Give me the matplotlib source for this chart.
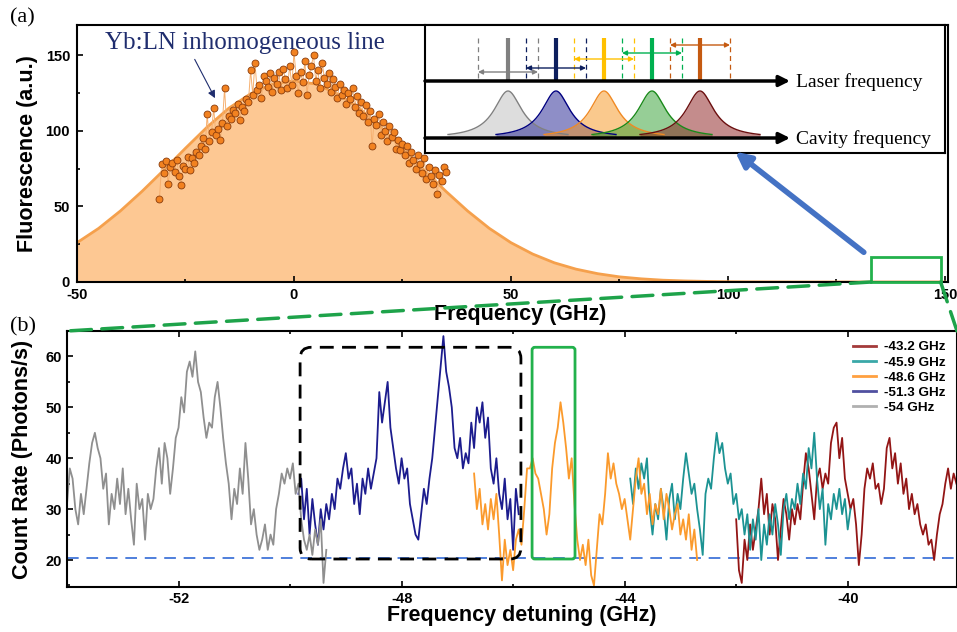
import numpy as np
import matplotlib
matplotlib.use("Agg")
import matplotlib.pyplot as plt
from matplotlib.patches import Rectangle, FancyBboxPatch, ConnectionPatch, FancyArrowPatch
from matplotlib.lines import Line2D
from matplotlib.ticker import MultipleLocator

plt.rcParams['font.family'] = ['Liberation Sans', 'DejaVu Sans']
plt.rcParams['axes.unicode_minus'] = False
SERIF = ['Liberation Serif', 'DejaVu Serif']

# ---- panel (a): inhomogeneous line ----
fit_x = np.arange(-50, 151, 5)
fit_y = [26, 35.5, 47, 60, 74, 88.5, 102.5, 115, 124.5, 131, 133,
         131, 124.5, 115, 102.5, 88.5, 74, 60, 47, 35.5, 26,
         18.5, 12.7, 8.5, 5.5, 3.4, 2.1, 1.2, 0.7, 0.4, 0.2,
         0.1, 0.05, 0, 0, 0, 0, 0, 0, 0, 0]

scat_x = -31 + 0.5 * np.arange(133)
scat_y = [55, 78, 72, 80, 65, 76, 79, 73, 81, 70,
          64, 77, 75, 83, 74, 82, 79, 86, 84, 90,
          95, 88, 111, 93, 99, 115, 97, 101, 94, 105,
          128, 103, 110, 108, 114, 112, 118, 107, 116, 113,
          121, 119, 140, 124, 145, 127, 130, 122, 136, 133,
          129, 138, 126, 135, 131, 139, 127, 141, 134, 128,
          143, 130, 152, 136, 125, 139, 132, 146, 124, 137,
          143, 150, 133, 140, 128, 145, 135, 131, 138, 126,
          134, 129, 122, 131, 124, 127, 118, 125, 121, 128,
          116, 123, 112, 119, 110, 117, 106, 113, 90, 108,
          104, 111, 97, 106, 100, 93, 103, 96, 99, 88,
          94, 87, 91, 84, 90, 79, 86, 81, 75, 84,
          78, 72, 82, 68, 76, 70, 65, 74, 58, 71,
          67, 76, 73]

# ---- panel (b): count-rate scans, 0.05 GHz sampling ----
STEP = 0.05
gray_start = -54.00
gray_y = [31, 38, 36, 30, 27, 33, 29, 34, 39, 43,
          45, 42, 40, 34, 37, 27, 33, 30, 36, 31,
          38, 29, 34, 28, 23, 35, 30, 32, 24, 33,
          30, 32, 38, 42, 35, 43, 40, 33, 38, 44,
          46, 52, 49, 57, 59, 56, 61, 55, 53, 48,
          44, 47, 46, 52, 55, 50, 44, 39, 35, 28,
          34, 31, 38, 33, 43, 36, 27, 30, 25, 22,
          24, 27, 22, 25, 23, 30, 33, 37, 35, 38,
          36, 39, 33, 35, 28, 24, 22, 25, 21, 26,
          23, 28, 15.5, 22]
navy_start = -49.85
navy_y = [33, 36, 28, 34, 25, 32, 27, 23, 30, 26,
          31, 28, 33, 30, 36, 34, 38, 41, 36, 38,
          31, 35, 29, 36, 33, 38, 34, 37, 40, 53,
          47, 51, 55, 46, 42, 38, 35, 40, 36, 38,
          31, 28, 25, 24, 29, 34, 31, 36, 40, 46,
          52, 58, 64, 57, 54, 50, 42, 40, 44, 38,
          41, 39, 47, 42, 50, 47, 51, 44, 48, 38,
          35, 40, 33, 30, 36, 28, 32, 22, 34, 29]
orange_start = -46.70
orange_y = [37, 30, 34, 27, 31, 26, 32, 28, 33, 25,
            16, 24, 19, 22, 18, 24, 26, 23, 30, 38,
            38, 40, 37, 36, 33, 30, 25, 29, 38, 43,
            46, 51, 47, 42, 36, 40, 31, 24, 20, 23,
            19, 24, 17, 15, 22, 29, 27, 33, 41, 36,
            39, 35, 33, 30, 32, 28, 24, 30, 36, 40,
            33, 35, 29, 33, 27, 31, 29, 34, 28, 33,
            30, 26, 29, 31, 25, 28, 24, 29, 22, 26,
            20]
teal_start = -43.90
teal_y = [36, 31, 38, 34, 39, 36, 40, 30, 25, 31,
          28, 34, 30, 24, 32, 35, 28, 33, 30, 36,
          41, 37, 33, 35, 30, 26, 21, 33, 36, 34,
          40, 45, 41, 43, 38, 35, 37, 31, 33, 28,
          30, 25, 29, 22, 28, 24, 30, 20, 27, 23,
          29, 25, 31, 27, 21, 30, 33, 28, 32, 30,
          35, 31, 37, 34, 42, 38, 45, 36, 30, 34,
          23, 31, 28, 33, 30, 34, 29, 32, 26, 30]
red_start = -42.00
red_y = [28, 18, 15.5, 24, 20, 27, 22, 26, 30, 36,
         29, 33, 25, 31, 28, 20, 26, 32, 29, 24,
         30, 27, 31, 28, 35, 41, 38, 33, 28, 36,
         38, 34, 37, 35, 43, 46, 47, 40, 44, 36,
         33, 30, 32, 27, 19, 25, 34, 38, 36, 39,
         34, 35, 31, 34, 42, 44, 38, 41, 35, 39,
         33, 36, 30, 33, 29, 31, 27, 25, 27, 23,
         24, 20, 25, 29, 31, 35, 38, 34, 37, 35]

background = 20.4
legend_labels = ['-43.2 GHz', '-45.9 GHz', '-48.6 GHz', '-51.3 GHz', '-54 GHz']
c_red, c_teal, c_orange, c_navy, c_gray = '#931515', '#1c9393', '#fb9a2c', '#1c1c8e', '#8f8f8f'

W, H = 957, 632
fig = plt.figure(figsize=(W / 100, H / 100), dpi=100)


def box(l, t, r, b):
    return [l / W, 1 - b / H, (r - l) / W, (b - t) / H]


def style_ticks(ax):
    ax.tick_params(which='both', direction='in', labelsize=10.5, width=1.2)
    ax.tick_params(which='major', length=4)
    ax.tick_params(which='minor', length=2.5)
    for lab in ax.get_xticklabels() + ax.get_yticklabels():
        lab.set_fontweight('bold')
    for s in ax.spines.values():
        s.set_linewidth(1.5)


# ---------------- (a) ----------------
ax1 = fig.add_axes(box(77, 25, 948, 282))
ax1.fill_between(fit_x, 0, fit_y, color='#fdc893', lw=0, zorder=1)
ax1.plot(fit_x, fit_y, color='#f5a04c', lw=2, zorder=2)
ax1.plot(scat_x, scat_y, '-', color='#f6b070', lw=0.7, zorder=3)
ax1.plot(scat_x, scat_y, 'o', ms=5, mfc='#f28220', mec='#8a3c0c', mew=0.6,
         ls='none', zorder=4)
ax1.set_xlim(-50, 150.7)
ax1.set_ylim(0, 170)
ax1.xaxis.set_major_locator(MultipleLocator(50))
ax1.xaxis.set_minor_locator(MultipleLocator(25))
ax1.yaxis.set_major_locator(MultipleLocator(50))
ax1.yaxis.set_minor_locator(MultipleLocator(25))
style_ticks(ax1)
ax1.tick_params(axis='x', pad=4.5)
ax1.tick_params(axis='y', pad=5)
ax1.set_xlabel('Frequency (GHz)', fontsize=15.5, fontweight='bold')
ax1.set_ylabel('Fluorescence (a.u.)', fontsize=15.5, fontweight='bold')
ax1.xaxis.set_label_coords(0.509, -0.085)
ax1.yaxis.set_label_coords(-0.045, 0.5)

ax1.add_patch(Rectangle((133, 0), 16, 16.5, fill=False, ec='#22b14c', lw=2,
                        zorder=6, clip_on=False))

navy_txt = '#1f2d6e'
ax1.annotate('Yb:LN inhomogeneous line', xy=(-18.2, 121.6), xytext=(-43.5, 158),
             fontsize=18, family=SERIF, color=navy_txt, ha='left', va='center',
             arrowprops=dict(arrowstyle='-|>', color=navy_txt, lw=0.8,
                             mutation_scale=11, relpos=(0.31, 0.0),
                             shrinkA=2, shrinkB=0), zorder=7)

# ---- inset schematic (pixel coordinates) ----
axi = fig.add_axes(box(425, 25, 945, 153))
axi.set_xlim(425, 945)
axi.set_ylim(153, 25)
axi.set_xticks([])
axi.set_yticks([])
for s in axi.spines.values():
    s.set_linewidth(1.5)

centers = [508, 556, 604, 652, 700]
laser_cols = ['#808080', '#0d1f5e', '#ffc000', '#00b050', '#c55a11']
cav_fill = ['#bdbdbd', '#1f1f90', '#f7941d', '#2e9e2e', '#8b1a1a']
cav_edge = ['#808080', '#000080', '#f08a24', '#1a8a1a', '#6b0f0f']
arr_y = [72, 68, 59, 53, 45]
base_laser, base_cav = 81, 138

for c, col, ay in zip(centers, laser_cols, arr_y):
    axi.plot([c, c], [38, base_laser], color=col, lw=3, solid_capstyle='butt')
    for d in (-30, 30):
        axi.plot([c + d, c + d], [38, base_laser], color=col, lw=0.9, ls=(0, (4, 3)))
    axi.annotate('', xy=(c + 30, ay), xytext=(c - 30, ay),
                 arrowprops=dict(arrowstyle='<|-|>', color=col, lw=1,
                                 mutation_scale=7, shrinkA=0, shrinkB=0))

for c, fc, ec in zip(centers, cav_fill, cav_edge):
    xx = np.linspace(c - 60, c + 60, 240)
    lor = 47 / (1 + ((xx - c) / 17) ** 2)
    axi.fill_between(xx, base_cav, base_cav - lor, color=fc, alpha=0.5, lw=0)
    axi.plot(xx, base_cav - lor, color=ec, lw=1)

for yy, txt in ((base_laser, 'Laser frequency'), (base_cav, 'Cavity frequency')):
    axi.annotate('', xy=(790, yy), xytext=(425, yy),
                 arrowprops=dict(arrowstyle='-|>', color='k', lw=2.5,
                                 mutation_scale=16, shrinkA=0, shrinkB=0))
    axi.text(796, yy + 1, txt, family=SERIF, fontsize=14, va='center', ha='left')

# ---------------- (b) ----------------
ax2 = fig.add_axes(box(67, 331, 957, 587))


def trace(start, vals):
    return start + STEP * np.arange(len(vals)), vals


for (start, vals), col in (((navy_start, navy_y), c_navy),
                           ((gray_start, gray_y), c_gray),
                           ((red_start, red_y), c_red),
                           ((teal_start, teal_y), c_teal),
                           ((orange_start, orange_y), c_orange)):
    xs, ys = trace(start, vals)
    ax2.plot(xs, ys, color=col, lw=1.3)

ax2.axhline(background, color='#4f7fdc', lw=1.4, ls=(0, (6, 4)), zorder=1)
ax2.set_xlim(-54, -38.04)
ax2.set_ylim(14.7, 65)
ax2.xaxis.set_major_locator(MultipleLocator(4))
ax2.xaxis.set_minor_locator(MultipleLocator(2))
ax2.yaxis.set_major_locator(MultipleLocator(10))
ax2.yaxis.set_minor_locator(MultipleLocator(5))
ax2.tick_params(which='both', top=True)
style_ticks(ax2)
ax2.set_xlabel('Frequency detuning (GHz)', fontsize=15.5, fontweight='bold')
ax2.set_ylabel('Count Rate (Photons/s)', fontsize=15.5, fontweight='bold')
ax2.xaxis.set_label_coords(0.511, -0.07)
ax2.yaxis.set_label_coords(-0.038, 0.5)

asp = 55.75 / 5.1
ax2.add_patch(FancyBboxPatch((-49.82, 20.2), 3.96, 41.6,
                             boxstyle='round,pad=0,rounding_size=0.2',
                             mutation_aspect=asp, fill=False, ec='k', lw=2,
                             ls=(0, (5, 3)), zorder=5))
ax2.add_patch(FancyBboxPatch((-45.66, 20.2), 0.77, 41.6,
                             boxstyle='round,pad=0,rounding_size=0.05',
                             mutation_aspect=asp, fill=False, ec='#22b14c', lw=2,
                             zorder=5))

handles = [Line2D([], [], color=c, lw=2) for c in
           ('#a33a3a', '#3aa8a8', '#ffa040', '#5050a0', '#b0b0b0')]
leg = ax2.legend(handles, legend_labels, loc='upper right',
                 bbox_to_anchor=(1 - 11 / 890, 1 - 10 / 256), frameon=False,
                 borderpad=0, borderaxespad=0, handlelength=1.75,
                 handletextpad=0.6, labelspacing=0.2,
                 prop=dict(size=9.7, weight='bold'))

# ---- connectors and arrow ----
gcol = '#1ea34a'
for xa, xb, yb in ((133, -54, 65), (149, -38.04, 65)):
    con = ConnectionPatch(xyA=(xa, 0), coordsA=ax1.transData,
                          xyB=(xb, yb), coordsB=ax2.transData,
                          color=gcol, lw=2.5, ls=(0, (6, 3)), zorder=8)
    fig.add_artist(con)

fig.add_artist(FancyArrowPatch(posA=(866 / W, 1 - 254 / H), posB=(733 / W, 1 - 150 / H),
                               transform=fig.transFigure, arrowstyle='-|>',
                               mutation_scale=22, lw=4, color='#4472c4', zorder=10))

fig.text(10 / W, 1 - 18 / H, '(a)', family=SERIF, fontsize=16, va='center')
fig.text(10 / W, 1 - 327 / H, '(b)', family=SERIF, fontsize=16, va='center')

fig.savefig('out.png', dpi=100)
